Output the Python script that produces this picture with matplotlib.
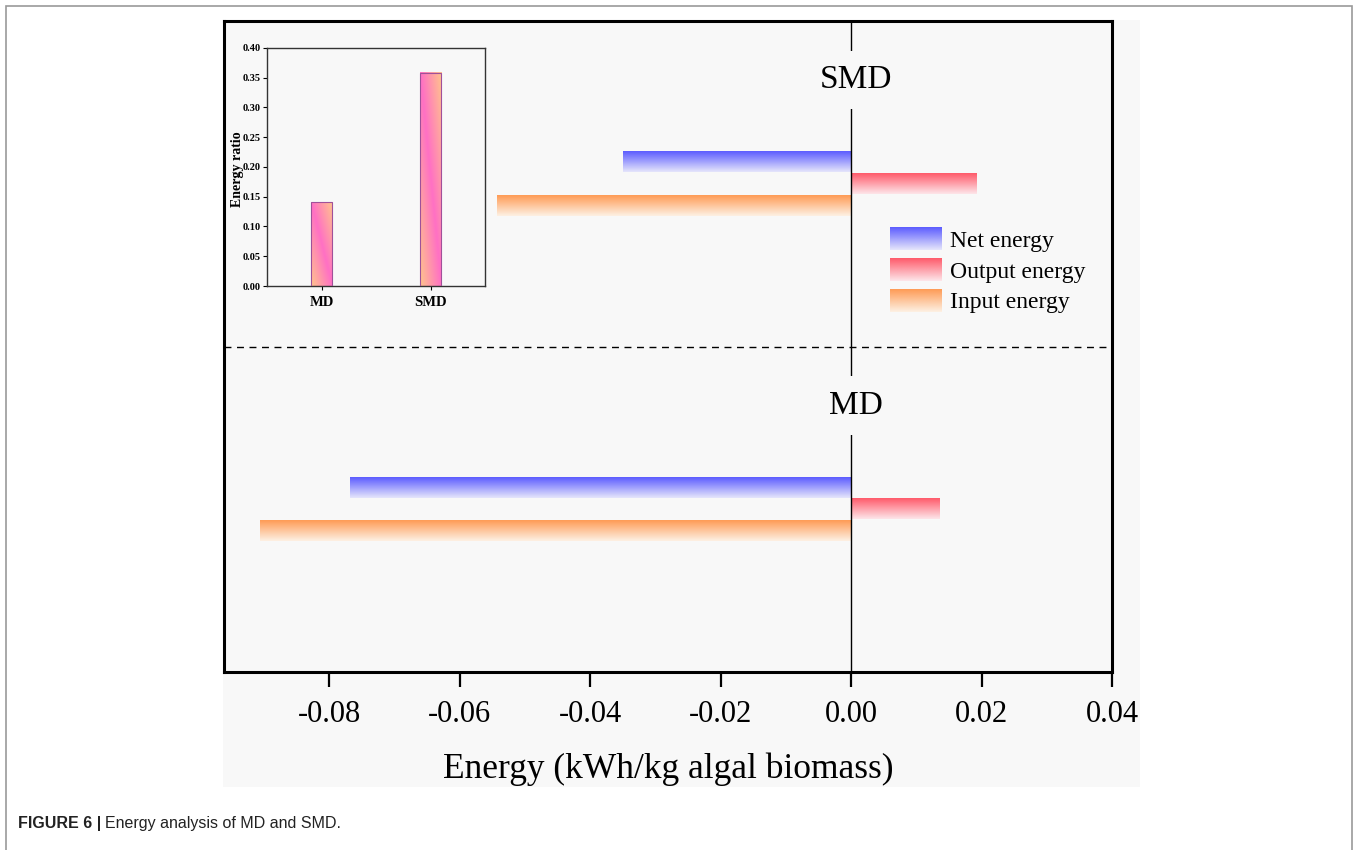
import numpy as np
import matplotlib
matplotlib.use("Agg")
import matplotlib.pyplot as plt
from matplotlib.colors import LinearSegmentedColormap
from matplotlib.patches import Rectangle
from matplotlib.legend_handler import HandlerBase
from matplotlib.image import BboxImage
from matplotlib.transforms import Bbox, TransformedBbox

# --- data ---
groups = ["MD", "SMD"]
series_names = ["Net energy", "Output energy", "Input energy"]
net_energy = [-0.0768, -0.0349]
output_energy = [0.0136, 0.0193]
input_energy = [-0.0906, -0.0543]
energy_ratio = [0.141, 0.358]
x_ticks = [-0.08, -0.06, -0.04, -0.02, 0.00, 0.02, 0.04]
ratio_ticks = [0.00, 0.05, 0.10, 0.15, 0.20, 0.25, 0.30, 0.35, 0.40]

# colours: (pale bottom, strong top)
grad_colors = {
    "Net energy": ("#e6e6fb", "#5c5cff"),
    "Output energy": ("#fde6ea", "#ff5a6a"),
    "Input energy": ("#fdf1e4", "#ff9b55"),
}
BG = "#f8f8f8"

plt.rcParams["font.family"] = ["Liberation Serif", "DejaVu Serif"]
plt.rcParams["axes.unicode_minus"] = False

W, H = 1358, 850
fig = plt.figure(figsize=(W / 100, H / 100), dpi=100)

# outer frame and grey panel (behind the axes)
fig.patches.append(Rectangle((6 / W, -0.02), 1346 / W, 1.02 - 6 / H, transform=fig.transFigure,
                             fill=False, edgecolor="#9a9a9a", lw=1.2, zorder=-2))
fig.patches.append(Rectangle((223 / W, 1 - 787 / H), 917 / W, 767 / H, transform=fig.transFigure,
                             facecolor=BG, edgecolor="none", zorder=-1))

ax = fig.add_axes([224 / W, 1 - 672 / H, 888 / W, 651 / H])
ax.set_facecolor(BG)

vgrad = np.linspace(0, 1, 128).reshape(-1, 1)
centers = np.array([0.5, 1.5])
offsets = [0.067, 0.0, -0.068]
bar_h = 0.062

for name, vals, off in zip(series_names, [net_energy, output_energy, input_energy], offsets):
    cmap = LinearSegmentedColormap.from_list(name, grad_colors[name])
    bars = ax.barh(centers + off, vals, height=bar_h, color="none", edgecolor="none")
    for b in bars:
        x0, x1 = sorted([b.get_x(), b.get_x() + b.get_width()])
        y0, y1 = b.get_y(), b.get_y() + b.get_height()
        ax.imshow(vgrad, extent=(x0, x1, y0, y1), origin="lower", cmap=cmap,
                  aspect="auto", interpolation="bicubic", zorder=2)

ax.axvline(0, color="black", lw=1.0, zorder=3)
ax.axhline(1, color="black", lw=1.0, ls=(0, (5, 4)), zorder=1)

for g, c in zip(groups, centers):
    ax.text(0.0008, c + 0.294, g, ha="center", va="baseline", fontsize=24, zorder=4,
            bbox=dict(facecolor=BG, edgecolor="none", pad=10))

ax.set_xlim(-0.0961, 0.04)
ax.set_ylim(0, 2)
ax.set_yticks([])
ax.set_xticks(x_ticks)
ax.set_xticklabels([f"{v:.2f}" for v in x_ticks])
ax.tick_params(axis="x", direction="out", length=11, width=1.6, labelsize=22, pad=9)
for s in ax.spines.values():
    s.set_linewidth(2.2)
ax.set_xlabel("Energy (kWh/kg algal biomass)", fontsize=25.5, labelpad=17)


class GradientHandler(HandlerBase):
    def __init__(self, cmap):
        super().__init__()
        self.cmap = cmap

    def create_artists(self, legend, orig_handle, xdescent, ydescent, width, height, fontsize, trans):
        bb = TransformedBbox(Bbox.from_bounds(-xdescent, -ydescent, width, height), trans)
        img = BboxImage(bb, cmap=self.cmap, interpolation="bicubic", origin="lower")
        img.set_data(vgrad)
        return [img]


handles = [Rectangle((0, 0), 1, 1) for _ in series_names]
hmap = {h: GradientHandler(LinearSegmentedColormap.from_list(n, grad_colors[n]))
        for h, n in zip(handles, series_names)}
ax.legend(handles, series_names, handler_map=hmap, loc="upper left",
          bbox_to_anchor=(890 / W, 1 - 228 / H), bbox_transform=fig.transFigure,
          frameon=False, borderpad=0, borderaxespad=0, handlelength=2.2, handleheight=1.08,
          handletextpad=0.35, labelspacing=0.27, fontsize=17)

# --- inset: energy ratio ---
axin = fig.add_axes([267 / W, 1 - 286 / H, 218 / W, 238 / H])
axin.set_facecolor(BG)
ratio_cmap = LinearSegmentedColormap.from_list("ratio", ["#ff70c4", "#ffc48c"])
xs = np.arange(len(groups))
rbars = axin.bar(xs, energy_ratio, width=0.2, color="none", edgecolor="#a0509a", lw=0.8, zorder=3)
xf = np.linspace(0, 1, 40)[None, :]
yf = np.linspace(0, 1, 200)[:, None]
dgrad = np.abs(xf - yf)
for b in rbars:
    axin.imshow(dgrad, extent=(b.get_x(), b.get_x() + b.get_width(), 0, b.get_height()),
                origin="upper", cmap=ratio_cmap, aspect="auto", interpolation="bilinear",
                vmin=0, vmax=1, zorder=2)
axin.set_xlim(-0.5, 1.5)
axin.set_ylim(0, 0.4)
axin.set_yticks(ratio_ticks)
axin.set_yticklabels([f"{v:.2f}" for v in ratio_ticks], fontweight="bold", fontsize=7.5)
axin.set_xticks(xs)
axin.set_xticklabels(groups, fontweight="bold", fontsize=10.5)
axin.tick_params(axis="y", direction="out", length=3, width=0.8, pad=1.5)
axin.tick_params(axis="x", direction="out", length=3, width=0.8, pad=4)
axin.set_ylabel("Energy ratio", fontweight="bold", fontsize=10, labelpad=-1, y=0.49)
for s in axin.spines.values():
    s.set_linewidth(1.0)
    s.set_color("#333333")

# caption
t1 = fig.text(18 / W, 1 - 828 / H, "FIGURE 6 |", family="Liberation Sans", weight="bold",
              fontsize=11.5, color="#222222", va="baseline")
ax.annotate("Energy analysis of MD and SMD.", xy=(1, 0), xycoords=t1, xytext=(3, 0),
            textcoords="offset points", va="bottom", ha="left", family="Liberation Sans",
            fontsize=11.5, color="#222222", annotation_clip=False)

fig.savefig("out.png", dpi=100)
